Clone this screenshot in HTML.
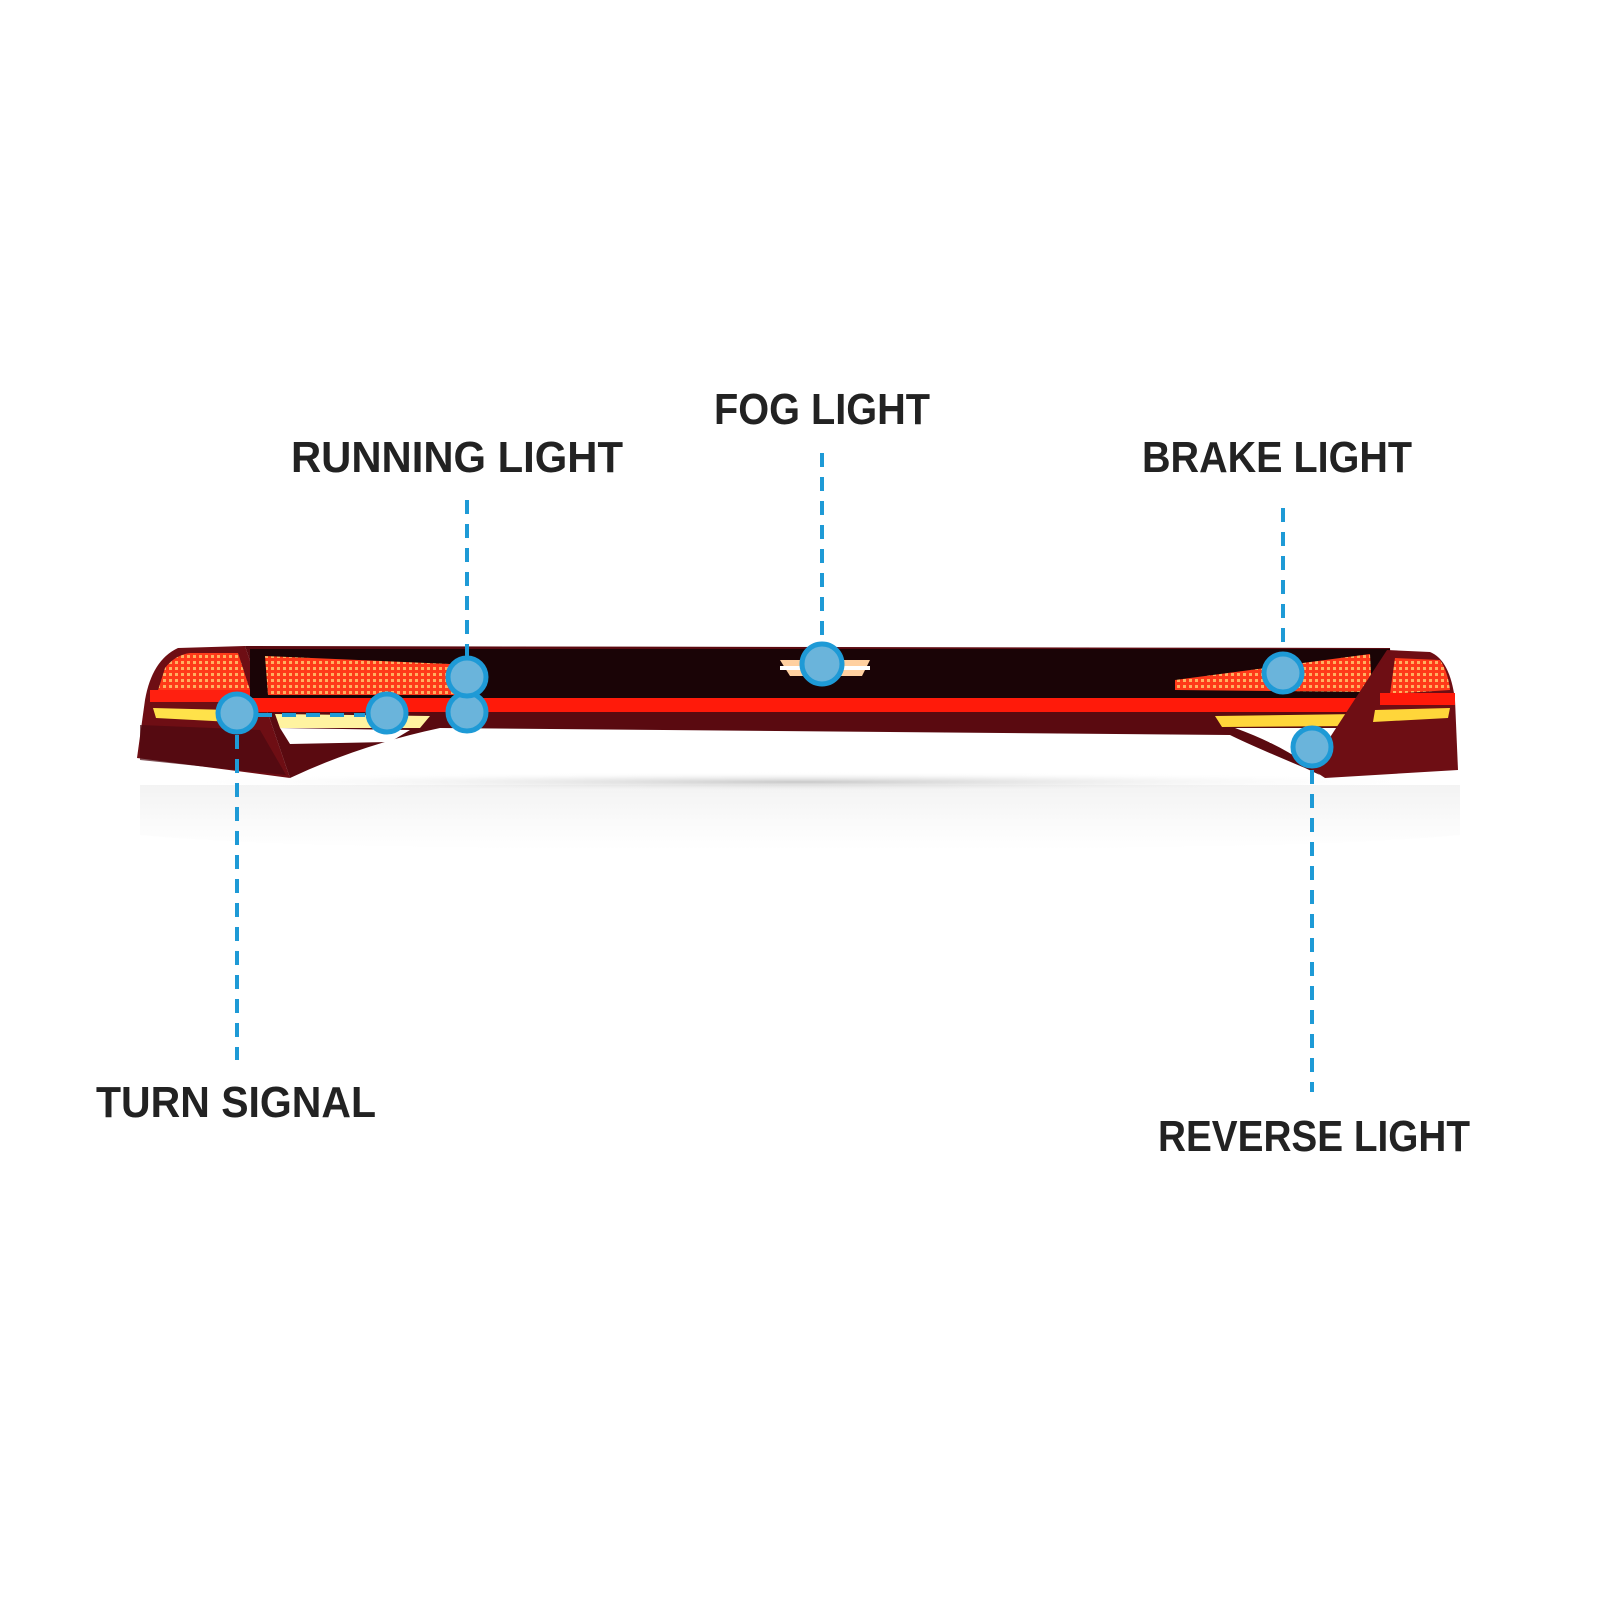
<!DOCTYPE html>
<html><head><meta charset="utf-8"><style>
html,body{margin:0;padding:0;background:#fff;}
svg{display:block;}
text{font-family:"Liberation Sans",sans-serif;font-weight:bold;fill:#222;font-size:44px;}
</style></head><body>
<svg width="1600" height="1600" viewBox="0 0 1600 1600" xmlns="http://www.w3.org/2000/svg">
<defs>
<radialGradient id="sh" cx="0.5" cy="0.5" r="0.5">
<stop offset="0" stop-color="#bbb" stop-opacity="0.8"/><stop offset="1" stop-color="#fff" stop-opacity="0"/>
</radialGradient>
<linearGradient id="refl" x1="0" y1="0" x2="0" y2="1">
<stop offset="0" stop-color="#eee"/><stop offset="1" stop-color="#fff"/>
</linearGradient>
<pattern id="led" width="6" height="6" patternUnits="userSpaceOnUse">
<rect width="6" height="6" fill="#ff3a1a"/><rect x="1" y="1" width="3" height="3" fill="#ffb060"/>
</pattern>
</defs>
<!-- reflection / shadow -->
<path d="M140 785 L1460 785 L1460 835 Q1300 850 800 850 Q300 850 140 835 Z" fill="url(#refl)" opacity="0.7"/>
<ellipse cx="800" cy="782" rx="640" ry="10" fill="url(#sh)"/>
<!-- left cluster -->
<path d="M137 758 L145 700 Q152 660 178 648 L245 646 L290 778 Z" fill="#6e0e14"/>
<path d="M155 700 L165 668 Q175 655 190 653 L238 653 L250 690 L157 690 Z" fill="url(#led)"/>
<rect x="150" y="690" width="100" height="12" fill="#ff2010"/>
<path d="M153 708 L230 710 L232 722 L156 718 Z" fill="#ffe24a"/>
<path d="M140 725 L260 730 L286 775 L140 760 Z" fill="#4a0810" opacity="0.7"/>
<!-- main bar -->
<path d="M245 646 L1390 648 L1395 728 L1235 728 Q1290 748 1320 775 L1305 768 Q1250 745 1230 735 L440 728 Q360 745 290 778 Z" fill="#5a0a10"/>
<rect x="250" y="649" width="1140" height="50" fill="#1a0406"/>
<path d="M265 656 L450 664 L455 695 L268 695 Z" fill="url(#led)"/>
<path d="M1175 690 L1175 680 L1370 654 L1372 692 Z" fill="url(#led)"/>
<rect x="250" y="698" width="1140" height="14" fill="#ff1a0a"/>
<path d="M275 714 L430 716 L420 728 L280 728 Z" fill="#fff3a0"/>
<path d="M280 728 L410 730 L390 742 L290 744 Z" fill="#ffffff"/>
<path d="M1215 716 L1358 714 L1356 726 L1222 727 Z" fill="#ffd63a"/>
<path d="M1262 730 L1350 728 L1345 745 L1270 743 Z" fill="#ffffff"/>
<path d="M780 660 L870 660 L862 676 L790 676 Z" fill="#ffd0a0"/>
<rect x="780" y="666" width="90" height="4" fill="#fff"/>
<!-- right cluster -->
<path d="M1387 650 L1430 652 Q1450 660 1455 700 L1458 770 L1325 778 L1310 768 Z" fill="#6e0e14"/>
<path d="M1395 658 L1440 660 Q1448 672 1450 690 L1390 694 Z" fill="url(#led)"/>
<rect x="1380" y="693" width="75" height="12" fill="#ff1a0a"/>
<path d="M1375 710 L1450 708 L1448 718 L1373 722 Z" fill="#ffd63a"/>
<!-- connectors -->
<g stroke="#1e9ad6" stroke-width="4" stroke-dasharray="14 10" fill="none">
<line x1="822" y1="453" x2="822" y2="642"/>
<line x1="467" y1="500" x2="467" y2="656"/>
<line x1="1283" y1="508" x2="1283" y2="652"/>
<line x1="237" y1="735" x2="237" y2="1060"/>
<line x1="1312" y1="770" x2="1312" y2="1092"/>
<line x1="258" y1="715" x2="365" y2="715"/>
</g>
<g fill="#6ab4db" stroke="#1e9ad6" stroke-width="5">
<circle cx="822" cy="664" r="20"/>
<circle cx="467" cy="712" r="19"/>
<circle cx="467" cy="677" r="19"/>
<circle cx="387" cy="713" r="19"/>
<circle cx="237" cy="713" r="19"/>
<circle cx="1283" cy="673" r="19"/>
<circle cx="1312" cy="747" r="19"/>
</g>
<!-- labels -->
<text x="714" y="424" textLength="216" lengthAdjust="spacingAndGlyphs">FOG LIGHT</text>
<text x="291" y="472" textLength="332" lengthAdjust="spacingAndGlyphs">RUNNING LIGHT</text>
<text x="1142" y="472" textLength="270" lengthAdjust="spacingAndGlyphs">BRAKE LIGHT</text>
<text x="96" y="1117" textLength="280" lengthAdjust="spacingAndGlyphs">TURN SIGNAL</text>
<text x="1158" y="1151" textLength="312" lengthAdjust="spacingAndGlyphs">REVERSE LIGHT</text>
</svg>
</body></html>
